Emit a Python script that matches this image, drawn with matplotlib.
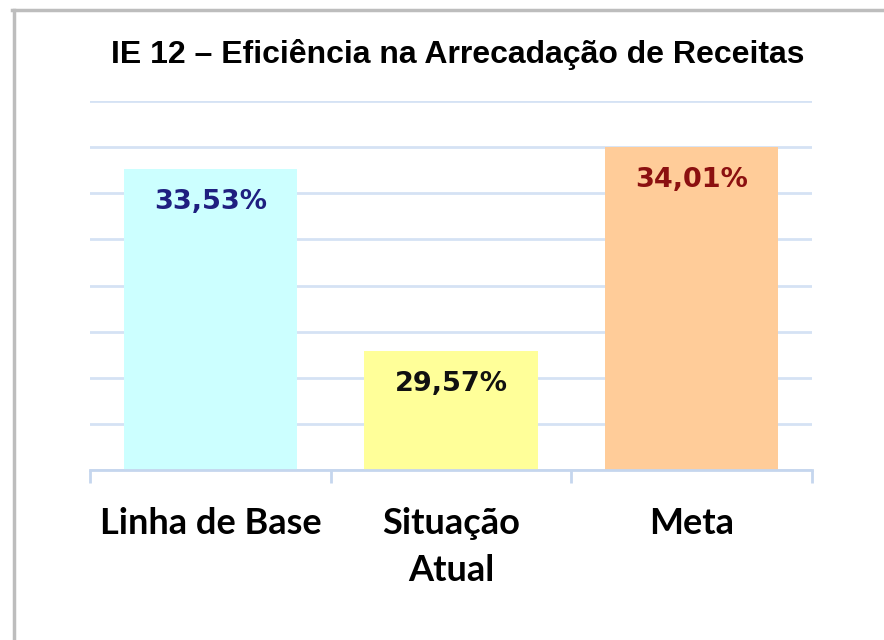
import matplotlib.pyplot as plt
from matplotlib.lines import Line2D

# data
categories = ['Linha de Base', 'Situação\nAtual', 'Meta']
values = [33.53, 29.57, 34.01]
bar_colors = ['#CCFFFF', '#FFFF99', '#FFCC99']
label_colors = ['#1F1F80', '#111111', '#8B1010']
title = 'IE 12 – Eficiência na Arrecadação de Receitas'

fig = plt.figure(figsize=(8.84, 6.4), dpi=100)
ax = fig.add_axes([90 / 884, 1 - 470 / 640, 722 / 884, 369 / 640])

x = range(len(values))
ax.bar(x, values, width=0.72, color=bar_colors, zorder=2)

for i, v in enumerate(values):
    txt = f'{v:.2f}'.replace('.', ',') + '%'
    ax.annotate(txt, (i, v), xytext=(0, -33), textcoords='offset pixels',
                ha='center', va='center', fontsize=19.5, fontweight='bold',
                family='DejaVu Sans', color=label_colors[i], zorder=3)

ax.set_xlim(-0.5, 2.5)
ax.set_ylim(27, 35)
ax.set_yticks(range(27, 36))
ax.yaxis.grid(True, color='#D5E2F4', linewidth=2)
ax.set_axisbelow(True)
ax.tick_params(axis='y', length=0, labelleft=False)

for s in ['top', 'right', 'left']:
    ax.spines[s].set_visible(False)
ax.spines['bottom'].set_color('#C5D6EE')
ax.spines['bottom'].set_linewidth(2)

ax.set_xticks(list(x))
ax.set_xticklabels(categories, fontsize=26, fontweight='bold', family='Lato',
                   linespacing=1.5)
ax.tick_params(axis='x', which='major', length=0, pad=27)
ax.set_xticks([-0.5, 0.5, 1.5, 2.5], minor=True)
ax.tick_params(axis='x', which='minor', length=9, width=2, color='#C5D6EE')

fig.text(458 / 884, 1 - 55 / 640, title, ha='center', va='center',
         fontsize=23, fontweight='bold', family='Liberation Sans')

# frame lines (left and top only)
fig.add_artist(Line2D([13.5 / 884, 13.5 / 884], [0, 1 - 9.5 / 640],
                      color='#BDBDBD', linewidth=2.5, transform=fig.transFigure))
fig.add_artist(Line2D([12 / 884, 1], [1 - 9.5 / 640, 1 - 9.5 / 640],
                      color='#BDBDBD', linewidth=2.5, transform=fig.transFigure))

fig.savefig('out.png', dpi=100)
